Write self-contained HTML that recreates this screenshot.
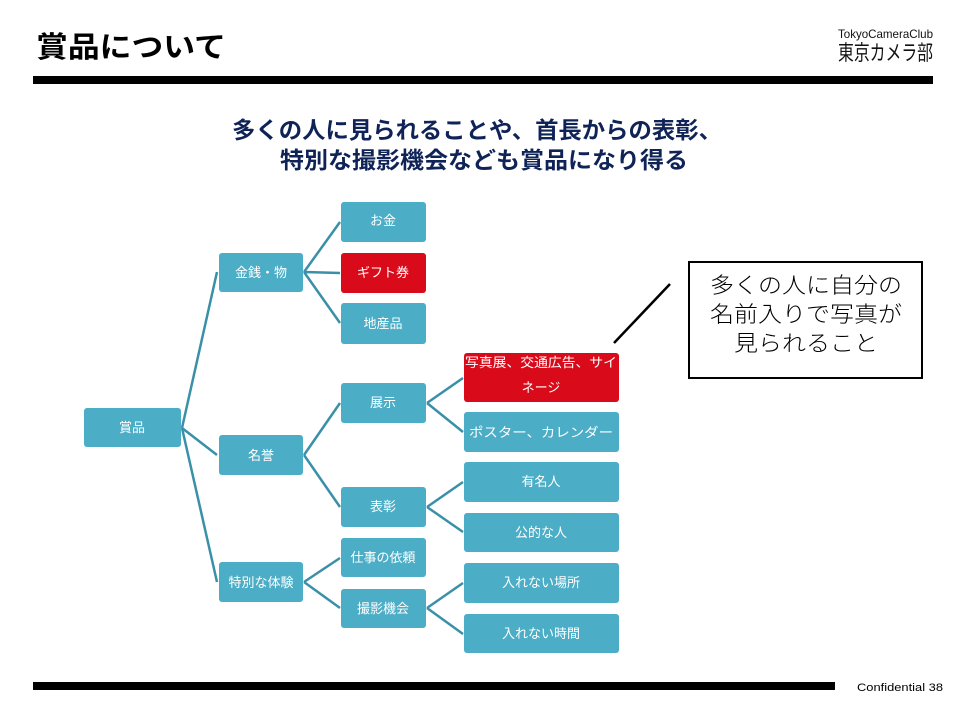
<!DOCTYPE html>
<html><head><meta charset="utf-8"><style>
body{margin:0;width:960px;height:720px;background:#fff;overflow:hidden;font-family:"Liberation Sans","Noto Sans CJK JP",sans-serif}
</style></head><body>
<svg width="960" height="720" xmlns="http://www.w3.org/2000/svg" style="font-family:'Liberation Sans','Noto Sans CJK JP',sans-serif">
<text x="36" y="57" font-size="29" font-weight="bold" fill="#000" textLength="190" lengthAdjust="spacingAndGlyphs">賞品について</text>
<text x="838" y="38" font-size="12" fill="#111" textLength="95" lengthAdjust="spacingAndGlyphs">TokyoCameraClub</text>
<text x="838" y="60" font-size="21" fill="#111" textLength="95" lengthAdjust="spacingAndGlyphs">東京カメラ部</text>
<rect x="33" y="76" width="900" height="8" fill="#000"/>
<text x="232" y="138" font-size="23" font-weight="bold" fill="#0f2357" textLength="490" lengthAdjust="spacingAndGlyphs">多くの人に見られることや、首長からの表彰、</text>
<text x="280" y="168" font-size="23" font-weight="bold" fill="#0f2357" textLength="408" lengthAdjust="spacingAndGlyphs">特別な撮影機会なども賞品になり得る</text>
<g stroke="#3a90a8" stroke-width="2.5" fill="none">
<path d="M182 428 L217 272 M182 428 L217 455 M182 428 L217 582"/>
<path d="M304 272 L340 222 M304 272 L340 273 M304 272 L340 323"/>
<path d="M304 455 L340 403 M304 455 L340 507"/>
<path d="M304 582 L340 558 M304 582 L340 608"/>
<path d="M427 403 L463 378 M427 403 L463 432"/>
<path d="M427 507 L463 482 M427 507 L463 532"/>
<path d="M427 608 L463 583 M427 608 L463 634"/>
</g>
<g fill="#4badc6">
<rect x="84" y="408" width="97" height="39" rx="3"/>
<rect x="219" y="253" width="84" height="39" rx="3"/>
<rect x="219" y="435" width="84" height="40" rx="3"/>
<rect x="219" y="562" width="84" height="40" rx="3"/>
<rect x="341" y="202" width="85" height="40" rx="3"/>
<rect x="341" y="303" width="85" height="41" rx="3"/>
<rect x="341" y="383" width="85" height="40" rx="3"/>
<rect x="341" y="487" width="85" height="40" rx="3"/>
<rect x="341" y="538" width="85" height="39" rx="3"/>
<rect x="341" y="589" width="85" height="39" rx="3"/>
<rect x="464" y="412" width="155" height="40" rx="3"/>
<rect x="464" y="462" width="155" height="40" rx="3"/>
<rect x="464" y="513" width="155" height="39" rx="3"/>
<rect x="464" y="563" width="155" height="40" rx="3"/>
<rect x="464" y="614" width="155" height="39" rx="3"/>
</g>
<g fill="#d90b1a">
<rect x="341" y="253" width="85" height="40" rx="3"/>
<rect x="464" y="353" width="155" height="49" rx="3"/>
</g>
<g fill="#fff" font-size="13" text-anchor="middle">
<text x="132" y="432">賞品</text>
<text x="261" y="277">金銭・物</text>
<text x="261" y="460">名誉</text>
<text x="261" y="587">特別な体験</text>
<text x="383" y="225">お金</text>
<text x="383" y="277">ギフト券</text>
<text x="383" y="328">地産品</text>
<text x="383" y="407">展示</text>
<text x="383" y="511">表彰</text>
<text x="383" y="562">仕事の依頼</text>
<text x="383" y="613">撮影機会</text>
<text x="541" y="367" font-size="13" textLength="152" lengthAdjust="spacingAndGlyphs">写真展、交通広告、サイ</text>
<text x="541" y="392">ネージ</text>
<text x="541" y="437" textLength="144" lengthAdjust="spacingAndGlyphs">ポスター、カレンダー</text>
<text x="541" y="486">有名人</text>
<text x="541" y="537">公的な人</text>
<text x="541" y="587">入れない場所</text>
<text x="541" y="638">入れない時間</text>
</g>
<line x1="614" y1="343" x2="670" y2="284" stroke="#000" stroke-width="2.5"/>
<rect x="689" y="262" width="233" height="116" fill="#fff" stroke="#000" stroke-width="2"/>
<g font-size="22" text-anchor="middle" fill="#000" font-weight="300">
<text x="806" y="293" textLength="192" lengthAdjust="spacingAndGlyphs">多くの人に自分の</text>
<text x="806" y="322" textLength="192" lengthAdjust="spacingAndGlyphs">名前入りで写真が</text>
<text x="806" y="351" textLength="144" lengthAdjust="spacingAndGlyphs">見られること</text>
</g>
<rect x="33" y="682" width="802" height="8" fill="#000"/>
<text x="857" y="691" font-size="11" fill="#000" textLength="86" lengthAdjust="spacingAndGlyphs">Confidential  38</text>
</svg>
</body></html>
